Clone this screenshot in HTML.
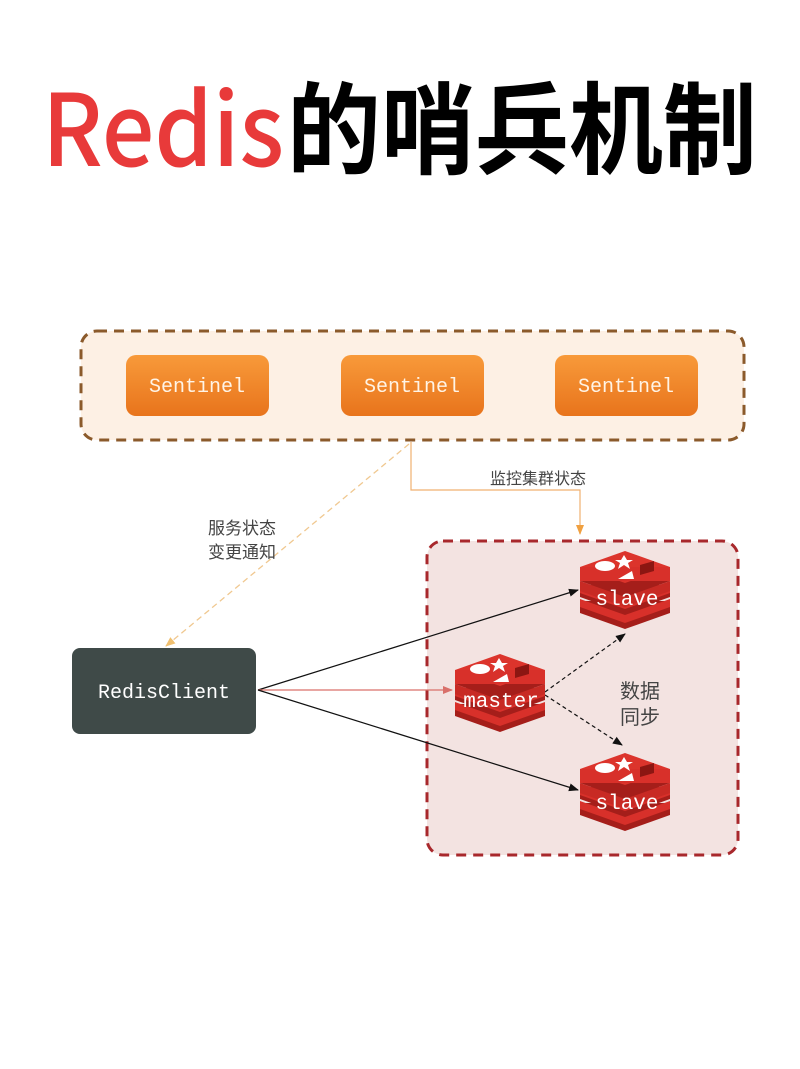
<!DOCTYPE html>
<html><head><meta charset="utf-8"><style>
html,body{margin:0;padding:0;background:#fff;width:800px;height:1069px;overflow:hidden}
</style></head><body>
<svg width="800" height="1069" xmlns="http://www.w3.org/2000/svg">
<defs>
<marker id="ab" markerWidth="10" markerHeight="10" refX="9" refY="5" orient="auto" markerUnits="userSpaceOnUse"><path d="M0,1 L10,5 L0,9 z" fill="#111"/></marker>
<marker id="ar" markerWidth="10" markerHeight="10" refX="9" refY="5" orient="auto" markerUnits="userSpaceOnUse"><path d="M0,1 L10,5 L0,9 z" fill="#d9706a"/></marker>
<marker id="ao" markerWidth="10" markerHeight="10" refX="9" refY="5" orient="auto" markerUnits="userSpaceOnUse"><path d="M0,1 L10,5 L0,9 z" fill="#f0a040"/></marker>
<marker id="ay" markerWidth="10" markerHeight="10" refX="9" refY="5" orient="auto" markerUnits="userSpaceOnUse"><path d="M0,1 L10,5 L0,9 z" fill="#f0c070"/></marker>
<linearGradient id="og" x1="0" y1="0" x2="0" y2="1"><stop offset="0" stop-color="#f89a3a"/><stop offset="1" stop-color="#e8741c"/></linearGradient>
<g id="cube">
  <path d="M0,50 L0,62 L45,78 L90,62 L90,50 Z" fill="#a51e1a"/>
  <path d="M0,48 L45,64 L90,48 L90,56 L45,72 L0,56 Z" fill="#d8302a"/>
  <path d="M0,34 L0,46 L45,62 L90,46 L90,34 Z" fill="#a51e1a"/>
  <path d="M0,32 L45,48 L90,32 L90,42 L45,58 L0,42 Z" fill="#d8302a"/>
  <path d="M0,18 L0,30 L45,46 L90,30 L90,18 Z" fill="#a51e1a"/>
  <path d="M0,16 L45,0 L90,16 L45,32 Z" fill="#dc342c"/>
  <rect x="0" y="16" width="90" height="14" fill="#d8302a"/>
  <path d="M0,30 L45,46 L90,30 L90,40 L45,56 L0,40 Z" fill="#c82a24"/>
  <ellipse cx="25" cy="15" rx="10" ry="5" fill="#fff"/>
  <path d="M44,4 l3,5 6,0 -5,3 2,6 -6,-4 -6,4 2,-6 -5,-3 6,0 z" fill="#fff"/>
  <path d="M38,28 l14,-8 2,8 z" fill="#fff"/>
  <path d="M60,14 l14,-4 0,10 -14,4 z" fill="#8c1612"/>
</g>
</defs>

<text y="166" font-family="'Noto Sans CJK SC','Liberation Sans',sans-serif" font-size="100" font-weight="bold"><tspan x="42" fill="#e83a3a" textLength="242" lengthAdjust="spacingAndGlyphs" font-weight="500">Redis</tspan><tspan x="287" fill="#000" textLength="470" lengthAdjust="spacingAndGlyphs">的哨兵机制</tspan></text>

<rect x="81" y="331" width="663" height="109" rx="16" fill="#fdf0e4" stroke="#8b5a2b" stroke-width="3" stroke-dasharray="10,7"/>
<g font-family="'Liberation Mono',monospace" font-size="20" fill="#fff4e6" text-anchor="middle">
<rect x="126" y="355" width="143" height="61" rx="10" fill="url(#og)"/><text x="197" y="392">Sentinel</text>
<rect x="341" y="355" width="143" height="61" rx="10" fill="url(#og)"/><text x="412" y="392">Sentinel</text>
<rect x="555" y="355" width="143" height="61" rx="10" fill="url(#og)"/><text x="626" y="392">Sentinel</text>
</g>

<rect x="427" y="541" width="311" height="314" rx="16" fill="#f3e3e1" stroke="#a8282c" stroke-width="3" stroke-dasharray="10,7"/>

<path d="M411,442 L411,490 L580,490 L580,534" fill="none" stroke="#f0b070" stroke-width="1.2" marker-end="url(#ao)"/>
<text x="538" y="484" font-family="'Liberation Sans','Noto Sans CJK SC',sans-serif" font-size="16" fill="#444" text-anchor="middle">监控集群状态</text>
<line x1="409" y1="444" x2="166" y2="646" stroke="#f0c890" stroke-width="1.3" stroke-dasharray="6,4" marker-end="url(#ay)"/>
<g font-family="'Liberation Sans','Noto Sans CJK SC',sans-serif" font-size="17" fill="#444" text-anchor="middle">
<text x="242" y="534">服务状态</text><text x="242" y="558">变更通知</text>
<text x="640" y="698" font-size="20">数据</text><text x="640" y="724" font-size="20">同步</text>
</g>

<rect x="72" y="648" width="184" height="86" rx="8" fill="#3f4a48"/>
<text x="164" y="698" font-family="'Liberation Mono',monospace" font-size="20" fill="#fff" text-anchor="middle">RedisClient</text>

<line x1="258" y1="690" x2="578" y2="590" stroke="#111" stroke-width="1.2" marker-end="url(#ab)"/>
<line x1="258" y1="690" x2="452" y2="690" stroke="#d9706a" stroke-width="1.2" marker-end="url(#ar)"/>
<line x1="258" y1="690" x2="578" y2="790" stroke="#111" stroke-width="1.2" marker-end="url(#ab)"/>
<line x1="545" y1="692" x2="625" y2="634" stroke="#111" stroke-width="1.2" stroke-dasharray="4,3" marker-end="url(#ab)"/>
<line x1="545" y1="695" x2="622" y2="745" stroke="#111" stroke-width="1.2" stroke-dasharray="4,3" marker-end="url(#ab)"/>

<use href="#cube" x="580" y="551"/>
<use href="#cube" x="455" y="654"/>
<use href="#cube" x="580" y="753"/>
<g font-family="'Liberation Mono',monospace" font-size="21" fill="#fff" text-anchor="middle">
<text x="627" y="605">slave</text>
<text x="501" y="707">master</text>
<text x="627" y="809">slave</text>
</g>
</svg>
</body></html>
